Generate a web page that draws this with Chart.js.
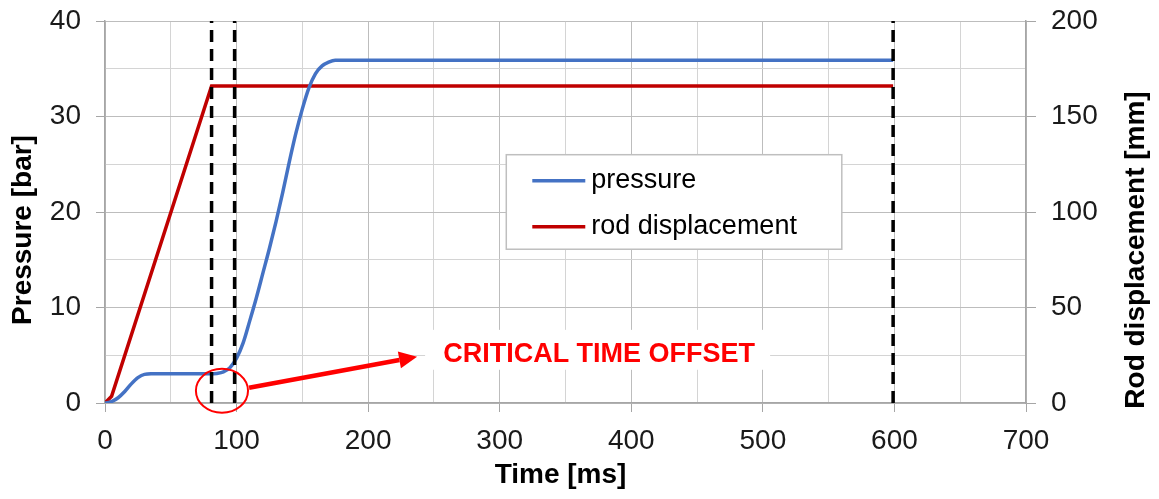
<!DOCTYPE html>
<html>
<head>
<meta charset="utf-8">
<script src="https://cdn.jsdelivr.net/npm/chart.js@4.4.1/dist/chart.umd.min.js"></script>
<style>
  html, body { margin: 0; padding: 0; background: #ffffff; }
  #chart { display: block; }
</style>
</head>
<body>
<canvas id="chart" width="1159" height="499"></canvas>
<script>
// pressure curve [ms] -> [bar]
const pressureTime = [0, 5, 10, 15, 20, 25, 30, 35, 40, 50, 60, 70, 80, 85, 90, 95, 100, 105, 110, 115,
    120, 125, 130, 135, 140, 145, 150, 155, 160, 165, 170, 175, 180, 599];
const pressure = [0, 0.15, 0.55, 1.2, 2.0, 2.65, 3.0, 3.05, 3.05, 3.05, 3.05, 3.05, 3.05, 3.1, 3.25, 3.7, 4.7, 6.3, 8.6, 11.0,
    13.6, 16.2, 19.0, 22.0, 25.2, 28.2, 30.8, 33.0, 34.5, 35.3, 35.7, 35.9, 35.9, 35.9];

// rod displacement [ms] -> [mm]
const rodTime = [0, 5, 81, 599];
const rodDisplacement = [0, 3.5, 166, 166];

// dashed vertical markers [ms]
const markerTimes = [81, 98.5, 599];

// tick labels
const timeTicks = [0, 100, 200, 300, 400, 500, 600, 700];
const pressureTicks = [0, 10, 20, 30, 40];
const rodTicks = [0, 50, 100, 150, 200];

const FONT = '"Liberation Sans", Arial, sans-serif';
const AXIS_GREY = '#a6a6a6';
const BLUE = '#4472c4';
const DARK_RED = '#c00000';
const RED = '#ff0000';

function toPoints(xs, ys) {
    return xs.map((x, i) => ({ x: x, y: ys[i] }));
}

// one dataset per dashed marker line, spanning the full pressure axis
const markerSets = markerTimes.map(t => ({
    label: 'marker',
    data: [{ x: t, y: 0 }, { x: t, y: 40 }],
    borderColor: '#000000',
    borderWidth: 3.5,
    borderDash: [12, 7],
    pointRadius: 0,
    yAxisID: 'y',
    order: 0
}));

/**
 * Draws the parts Excel had as shapes: axis titles, the legend box,
 * the circled offset with its arrow and the red caption.
 */
const overlayPlugin = {
    id: 'overlay',
    afterDatasetsDraw(chart) {
        const ctx = chart.ctx;
        const xs = chart.scales.x;
        const ys = chart.scales.y;
        const px = v => xs.getPixelForValue(v);
        const py = v => ys.getPixelForValue(v);

        ctx.save();

        // legend
        const lx0 = px(305), lx1 = px(560), ly0 = py(26), ly1 = py(16.1);
        ctx.fillStyle = '#ffffff';
        ctx.fillRect(lx0, ly0, lx1 - lx0, ly1 - ly0);
        ctx.strokeStyle = '#bfbfbf';
        ctx.lineWidth = 1.5;
        ctx.strokeRect(lx0, ly0, lx1 - lx0, ly1 - ly0);
        const items = [
            { text: 'pressure', color: BLUE },
            { text: 'rod displacement', color: DARK_RED }
        ];
        ctx.font = '27px ' + FONT;
        ctx.textBaseline = 'middle';
        ctx.textAlign = 'left';
        items.forEach((item, i) => {
            const y = ly0 + 26 + i * 46;
            ctx.strokeStyle = item.color;
            ctx.lineWidth = 3.5;
            ctx.beginPath();
            ctx.moveTo(lx0 + 26, y);
            ctx.lineTo(lx0 + 79, y);
            ctx.stroke();
            ctx.fillStyle = '#000000';
            ctx.fillText(item.text, lx0 + 85, y);
        });

        // caption with white backing
        const bx0 = px(243.3), bx1 = px(505.5), by0 = py(7.66), by1 = py(3.48);
        ctx.fillStyle = '#ffffff';
        ctx.fillRect(bx0, by0, bx1 - bx0, by1 - by0);
        ctx.fillStyle = RED;
        ctx.font = 'bold 27px ' + FONT;
        ctx.fillText('CRITICAL TIME OFFSET', px(257), py(5.05));

        // ellipse round the offset
        ctx.strokeStyle = RED;
        ctx.lineWidth = 2;
        ctx.beginPath();
        const cx = px(88.9), cy = py(1.29);
        ctx.ellipse(cx, cy, px(88.9 + 19.8) - cx, cy - py(1.29 + 2.3), 0, 0, Math.PI * 2);
        ctx.stroke();

        // arrow
        const ax0 = px(109.5), ay0 = py(1.6), ax1 = px(237.2), ay1 = py(4.85);
        const ang = Math.atan2(ay1 - ay0, ax1 - ax0);
        const headLen = 18, headHalf = 8.5;
        const bxh = ax1 - headLen * Math.cos(ang), byh = ay1 - headLen * Math.sin(ang);
        ctx.lineWidth = 4.5;
        ctx.beginPath();
        ctx.moveTo(ax0, ay0);
        ctx.lineTo(bxh, byh);
        ctx.stroke();
        ctx.fillStyle = RED;
        ctx.beginPath();
        ctx.moveTo(ax1, ay1);
        ctx.lineTo(bxh - headHalf * Math.sin(ang), byh + headHalf * Math.cos(ang));
        ctx.lineTo(bxh + headHalf * Math.sin(ang), byh - headHalf * Math.cos(ang));
        ctx.closePath();
        ctx.fill();

        ctx.restore();
    },
    afterDraw(chart) {
        const ctx = chart.ctx;
        const area = chart.chartArea;
        ctx.save();
        ctx.fillStyle = '#000000';
        ctx.font = 'bold 28px ' + FONT;
        ctx.textAlign = 'center';
        ctx.textBaseline = 'middle';

        ctx.fillText('Time [ms]', (area.left + area.right) / 2 - 5, 475);

        ctx.translate(23, 230);
        ctx.rotate(-Math.PI / 2);
        ctx.fillText('Pressure [bar]', 0, 0);
        ctx.restore();

        ctx.save();
        ctx.fillStyle = '#000000';
        ctx.font = 'bold 28px ' + FONT;
        ctx.textAlign = 'center';
        ctx.textBaseline = 'middle';
        ctx.translate(1136, 250);
        ctx.rotate(-Math.PI / 2);
        ctx.fillText('Rod displacement [mm]', 0, 0);
        ctx.restore();
    }
};

function majorOnly(list, color) {
    return c => (c.tick && list.includes(c.tick.value)) ? color : 'rgba(0,0,0,0)';
}

// fixed axis box sizes so the plot area lands where the original has it
function fixWidth(w) {
    return s => { s.width = w; s.paddingTop = 0; s.paddingBottom = 0; };
}

const tickFont = { family: FONT, size: 28 };

new Chart(document.getElementById('chart').getContext('2d'), {
    type: 'line',
    data: {
        datasets: [
            ...markerSets,
            {
                label: 'rod displacement',
                data: toPoints(rodTime, rodDisplacement),
                borderColor: DARK_RED,
                borderWidth: 3.5,
                pointRadius: 0,
                tension: 0,
                yAxisID: 'y1',
                order: 2
            },
            {
                label: 'pressure',
                data: toPoints(pressureTime, pressure),
                borderColor: BLUE,
                borderWidth: 3.5,
                pointRadius: 0,
                cubicInterpolationMode: 'monotone',
                yAxisID: 'y',
                order: 1
            }
        ]
    },
    options: {
        responsive: false,
        animation: false,
        layout: { padding: { top: 21 } },
        plugins: {
            legend: { display: false },
            tooltip: { enabled: false }
        },
        scales: {
            x: {
                type: 'linear',
                min: 0,
                max: 700,
                afterFit: s => { s.height = 96; s.paddingLeft = 0; s.paddingRight = 0; },
                border: { color: AXIS_GREY, width: 1.5 },
                grid: {
                    color: c => timeTicks.includes(c.tick.value) ? '#bdbdbd' : '#d4d4d4',
                    tickColor: majorOnly(timeTicks, AXIS_GREY),
                    tickLength: 9
                },
                ticks: {
                    stepSize: 50,
                    autoSkip: false,
                    maxRotation: 0,
                    padding: 12,
                    color: '#1a1a1a',
                    font: tickFont,
                    callback: v => timeTicks.includes(v) ? v : ''
                }
            },
            y: {
                position: 'left',
                min: 0,
                max: 40,
                afterFit: fixWidth(105),
                border: { color: AXIS_GREY, width: 1.5 },
                grid: {
                    color: c => pressureTicks.includes(c.tick.value) ? '#bdbdbd' : '#d4d4d4',
                    tickColor: majorOnly(pressureTicks, AXIS_GREY),
                    tickLength: 9
                },
                ticks: {
                    stepSize: 5,
                    autoSkip: false,
                    padding: 15,
                    color: '#1a1a1a',
                    font: tickFont,
                    callback: v => pressureTicks.includes(v) ? v : ''
                }
            },
            y1: {
                position: 'right',
                min: 0,
                max: 200,
                afterFit: fixWidth(133),
                border: { color: AXIS_GREY, width: 1.5 },
                grid: {
                    drawOnChartArea: false,
                    tickColor: AXIS_GREY,
                    tickLength: 10
                },
                ticks: {
                    stepSize: 50,
                    padding: 15,
                    color: '#1a1a1a',
                    font: tickFont,
                    callback: v => rodTicks.includes(v) ? v : ''
                }
            }
        }
    },
    plugins: [overlayPlugin]
});
</script>
</body>
</html>
